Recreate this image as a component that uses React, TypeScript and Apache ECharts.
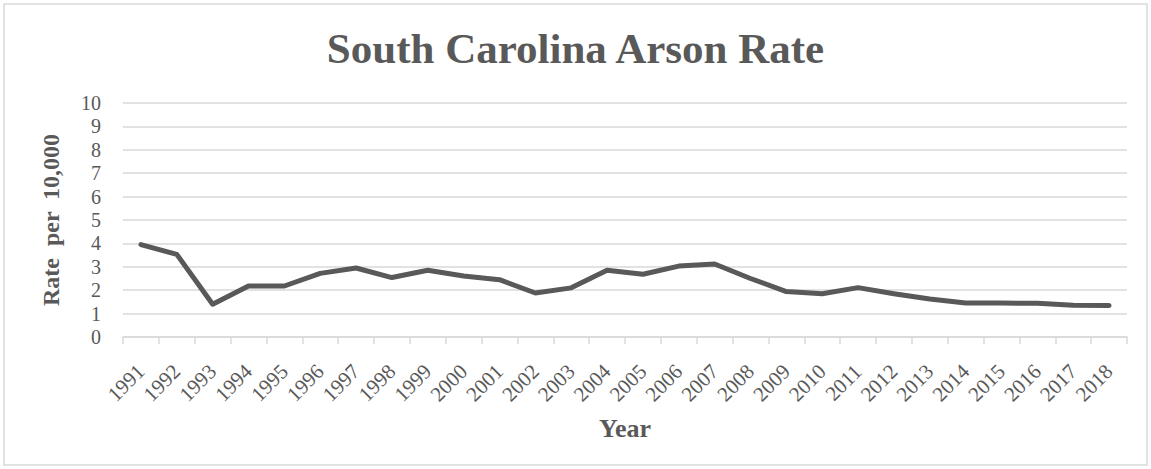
import React, { useEffect, useRef } from "react";
import * as echarts from "echarts";

const years = ["1991","1992","1993","1994","1995","1996","1997","1998","1999","2000","2001","2002","2003","2004","2005","2006","2007","2008","2009","2010","2011","2012","2013","2014","2015","2016","2017","2018"];
const rates = [3.95,3.53,1.4,2.18,2.18,2.72,2.95,2.54,2.85,2.61,2.45,1.88,2.1,2.85,2.68,3.03,3.12,2.5,1.94,1.85,2.11,1.85,1.62,1.45,1.45,1.44,1.36,1.35];
const yTicks = { min: 0, max: 10, interval: 1 };
const titleText = "South Carolina Arson Rate";
const yName = "Rate  per  10,000";
const xName = "Year";

const FONT = "'Liberation Serif', 'Times New Roman', serif";
const GREY = "#595959";

export default function App() {
  const ref = useRef<HTMLDivElement>(null);
  useEffect(() => {
    document.body.style.margin = "0";
    const chart = echarts.init(ref.current!, null, { renderer: "svg" });
    chart.setOption({
      animation: false,
      backgroundColor: "#ffffff",
      textStyle: { fontFamily: FONT },
      title: {
        text: titleText,
        left: "center",
        top: 22,
        textStyle: { fontFamily: FONT, fontSize: 43, fontWeight: "bold", color: GREY },
      },
      graphic: [
        {
          type: "rect",
          shape: { x: 4, y: 4, width: 1143, height: 461 },
          style: { fill: "none", stroke: "#d9d9d9", lineWidth: 1.5 },
          silent: true,
        },
      ],
      grid: { left: 123, right: 24, top: 103, bottom: 132, containLabel: false },
      xAxis: {
        type: "category",
        data: years,
        boundaryGap: true,
        name: xName,
        nameLocation: "middle",
        nameGap: 78,
        nameTextStyle: { fontFamily: FONT, fontSize: 26, fontWeight: "bold", color: GREY },
        axisLine: { show: true, lineStyle: { color: "#d9d9d9", width: 1.5 } },
        axisTick: { show: true, length: 7, lineStyle: { color: "#d9d9d9", width: 1.5 } },
        axisLabel: {
          rotate: 45,
          interval: 0,
          margin: 31,
          fontFamily: FONT,
          fontSize: 21,
          color: GREY,
        },
        splitLine: { show: false },
      },
      yAxis: {
        type: "value",
        min: yTicks.min,
        max: yTicks.max,
        interval: yTicks.interval,
        name: yName,
        nameLocation: "middle",
        nameGap: 60,
        nameTextStyle: { fontFamily: FONT, fontSize: 24, fontWeight: "bold", color: GREY },
        axisLine: { show: false },
        axisTick: { show: false },
        axisLabel: { fontFamily: FONT, fontSize: 20, color: GREY, margin: 22 },
        splitLine: { show: true, lineStyle: { color: "#d9d9d9", width: 1.5 } },
      },
      series: [
        {
          type: "line",
          data: rates,
          symbol: "none",
          lineStyle: { color: GREY, width: 5, join: "round", cap: "round" },
          itemStyle: { color: GREY },
        },
      ],
    });
    return () => chart.dispose();
  }, []);
  return <div ref={ref} style={{ position: "absolute", left: 0, top: 0, width: 1151, height: 469 }} />;
}
